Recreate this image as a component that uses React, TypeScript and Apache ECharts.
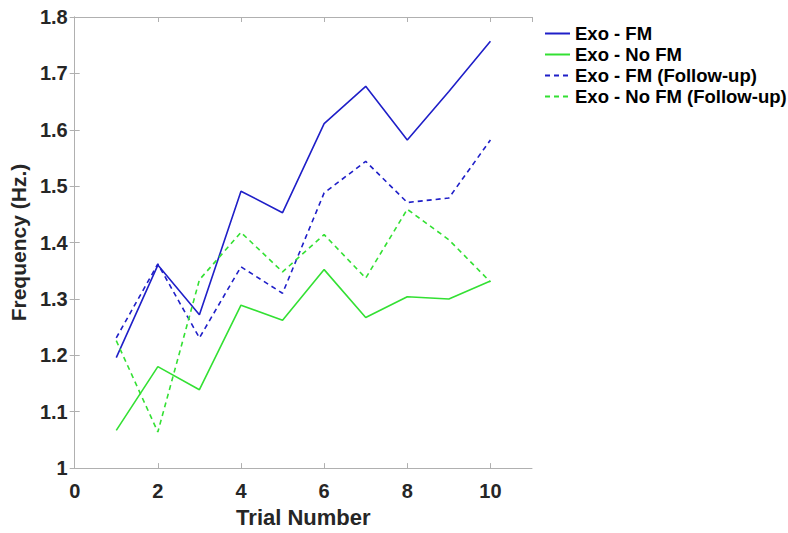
import React, { useEffect, useRef } from "react";
import * as echarts from "echarts";

const trials = [1, 2, 3, 4, 5, 6, 7, 8, 9, 10];
const exoFM = [1.196, 1.36, 1.272, 1.491, 1.453, 1.611, 1.677, 1.582, 1.668, 1.757];
const exoNoFM = [1.067, 1.18, 1.139, 1.289, 1.262, 1.352, 1.267, 1.304, 1.3, 1.332];
const exoFMFollow = [1.231, 1.362, 1.231, 1.357, 1.31, 1.488, 1.544, 1.471, 1.479, 1.582];
const exoNoFMFollow = [1.226, 1.064, 1.334, 1.418, 1.348, 1.414, 1.337, 1.459, 1.405, 1.33];
const seriesNames = ["Exo - FM", "Exo - No FM", "Exo - FM (Follow-up)", "Exo - No FM (Follow-up)"];

const BLUE = "#1f1fc8";
const GREEN = "#33e033";
const FONT = "'Liberation Sans', Arial, sans-serif";
const TXT = "#262626";
const AX = "#b0b0b0";

export default function App() {
  const ref = useRef<HTMLDivElement>(null);
  useEffect(() => {
    const chart = echarts.init(ref.current!, null, { renderer: "svg" });
    const mk = (name: string, vals: number[], color: string, dashed: boolean) => ({
      name,
      type: "line",
      data: trials.map((t, i) => [t, vals[i]]),
      symbol: "none",
      xAxisIndex: 0,
      yAxisIndex: 0,
      lineStyle: { color, width: 1.6, type: dashed ? [5, 4] : "solid" },
      itemStyle: { color },
    });
    const axisCommon = {
      axisLine: { show: true, lineStyle: { color: AX, width: 1 } },
      axisTick: { show: true, inside: true, length: 5, lineStyle: { color: AX } },
      splitLine: { show: false },
    };
    chart.setOption({
      animation: false,
      backgroundColor: "#fff",
      grid: { left: 74, right: 256, top: 17, bottom: 60, containLabel: false },
      legend: {
        orient: "vertical",
        left: 539,
        top: 19,
        itemWidth: 25,
        itemHeight: 14,
        itemGap: 2,
        itemStyle: { opacity: 0 },
        textStyle: { fontFamily: FONT, fontWeight: "bold", fontSize: 18.5, lineHeight: 18, color: "#000" },
        data: seriesNames,
      },
      xAxis: [
        {
          type: "value",
          min: 0,
          max: 11,
          interval: 2,
          position: "bottom",
          name: "Trial Number",
          nameLocation: "middle",
          nameGap: 37,
          nameTextStyle: { fontFamily: FONT, fontWeight: "bold", fontSize: 22, color: TXT },
          axisLabel: {
            fontFamily: FONT,
            fontWeight: "bold",
            fontSize: 20,
            color: TXT,
            margin: 13,
            showMaxLabel: false,
          },
          ...axisCommon,
        },
        {
          type: "value",
          min: 0,
          max: 11,
          interval: 2,
          position: "top",
          axisLabel: { show: false },
          ...axisCommon,
        },
      ],
      yAxis: [
        {
          type: "value",
          min: 1,
          max: 1.8,
          interval: 0.1,
          position: "left",
          name: "Frequency (Hz.)",
          nameLocation: "middle",
          nameGap: 38,
          nameTextStyle: { fontFamily: FONT, fontWeight: "bold", fontSize: 21, color: TXT },
          axisLabel: {
            fontFamily: FONT,
            fontWeight: "bold",
            fontSize: 20,
            color: TXT,
            margin: 7,
            formatter: (v: number) => String(Math.round(v * 10) / 10),
          },
          ...axisCommon,
        },
        {
          type: "value",
          min: 1,
          max: 1.8,
          interval: 0.1,
          position: "right",
          axisLabel: { show: false },
          ...axisCommon,
        },
      ],
      series: [
        mk(seriesNames[0], exoFM, BLUE, false),
        mk(seriesNames[1], exoNoFM, GREEN, false),
        mk(seriesNames[2], exoFMFollow, BLUE, true),
        mk(seriesNames[3], exoNoFMFollow, GREEN, true),
      ],
    });
    return () => chart.dispose();
  }, []);
  return <div ref={ref} style={{ width: 788, height: 533, position: "absolute", left: 0, top: 0 }} />;
}
